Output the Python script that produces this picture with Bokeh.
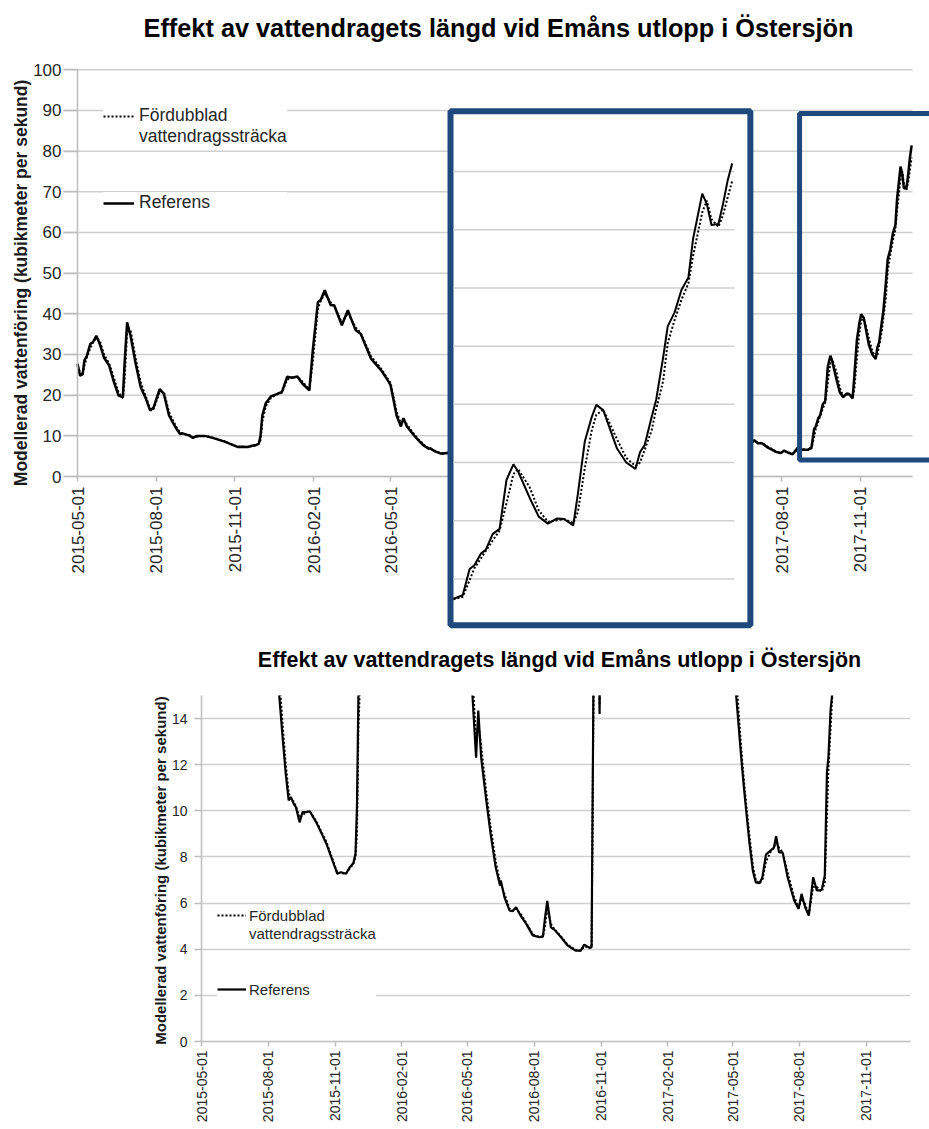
import math
import pandas as pd
from bokeh.plotting import figure
from bokeh.models import (ColumnDataSource, Range1d, FixedTicker, DatetimeTickFormatter,
                          DatetimeAxis, LinearAxis, BoxAnnotation, Legend, LegendItem, Label)
from bokeh.core.properties import value
from bokeh.embed import file_html
from bokeh.resources import INLINE

nan = float("nan")

# ---------------- data ----------------
datum = [
    "2015-05-01", "2015-05-04", "2015-05-07", "2015-05-09", "2015-05-12", "2015-05-16", "2015-05-19",
    "2015-05-23", "2015-05-27", "2015-06-01", "2015-06-07", "2015-06-12", "2015-06-18", "2015-06-23",
    "2015-06-25", "2015-06-28", "2015-07-02", "2015-07-08", "2015-07-14", "2015-07-20", "2015-07-25",
    "2015-07-29", "2015-08-05", "2015-08-10", "2015-08-16", "2015-08-21", "2015-08-25", "2015-08-29",
    "2015-09-01", "2015-09-05", "2015-09-08", "2015-09-13", "2015-09-17", "2015-09-22", "2015-09-27",
    "2015-10-06", "2015-10-20", "2015-11-04", "2015-11-09", "2015-11-16", "2015-11-21", "2015-11-26",
    "2015-11-29", "2015-12-01", "2015-12-03", "2015-12-07", "2015-12-13", "2015-12-19", "2015-12-26",
    "2016-01-01", "2016-01-07", "2016-01-13", "2016-01-19", "2016-01-27", "2016-01-31", "2016-02-06",
    "2016-02-09", "2016-02-14", "2016-02-21", "2016-02-25", "2016-03-05", "2016-03-12", "2016-03-21",
    "2016-03-27", "2016-04-08", "2016-04-20", "2016-04-29", "2016-05-01", "2016-05-08", "2016-05-13",
    "2016-05-16", "2016-05-20", "2016-05-27", "2016-06-02", "2016-06-09", "2016-06-15", "2016-06-16",
    "2016-06-21", "2016-06-28", "2016-07-02", "2016-07-07", "2016-07-14", "2016-07-21", "2016-07-30",
    "2016-08-08", "2016-08-13", "2016-08-16", "2016-08-19", "2016-08-24", "2016-08-29", "2016-09-07",
    "2016-09-16", "2016-09-27", "2016-10-04", "2016-10-09", "2016-10-16", "2016-10-19", "2016-10-23",
    "2016-10-28", "2016-10-30", "2016-11-01",
    "2017-01-15",
    "2017-05-04", "2017-05-06", "2017-05-13", "2017-05-17", "2017-05-24", "2017-05-29", "2017-06-02",
    "2017-06-07", "2017-06-11", "2017-06-16", "2017-06-23", "2017-06-27", "2017-06-30", "2017-07-04",
    "2017-07-09", "2017-07-16", "2017-07-25", "2017-07-31", "2017-08-04", "2017-08-09", "2017-08-14",
    "2017-08-20", "2017-08-25", "2017-08-30",
    "2017-09-01", "2017-09-05", "2017-09-08", "2017-09-10", "2017-09-13", "2017-09-15", "2017-09-18",
    "2017-09-21", "2017-09-24", "2017-09-27", "2017-09-29", "2017-10-04", "2017-10-08", "2017-10-12",
    "2017-10-16", "2017-10-19", "2017-10-23", "2017-10-25", "2017-10-28", "2017-10-31", "2017-11-02",
    "2017-11-05", "2017-11-11", "2017-11-15", "2017-11-19", "2017-11-21", "2017-11-23", "2017-11-26",
    "2017-11-28", "2017-12-01", "2017-12-03", "2017-12-06", "2017-12-09", "2017-12-12", "2017-12-14",
    "2017-12-18", "2017-12-20", "2017-12-22", "2017-12-25", "2017-12-27", "2017-12-29", "2017-12-31",
]

referens = [
    27.7, 24.8, 25.1, 28.5, 29.7, 32.6, 33.0,
    34.6, 32.6, 29.2, 27.3, 23.6, 19.9, 19.5,
    27.7, 37.9, 34.6, 27.7, 21.9, 19.1, 16.2,
    17.0, 21.5, 20.3, 15.0, 13.05, 11.6, 10.45,
    10.6, 10.3, 10.16, 9.5, 9.94, 9.94, 9.98,
    9.5, 8.57, 7.27, 7.34, 7.27, 7.55, 7.73,
    8.14, 10.16, 15.0, 18.0, 19.7, 20.2, 20.8,
    24.5, 24.3, 24.6, 22.8, 21.2, 31.0, 42.9,
    43.3, 45.8, 42.1, 42.1, 37.2, 40.9, 36.0,
    35.1, 29.0, 26.1, 23.2, 22.4, 15.0, 12.3,
    14.35, 12.3, 10.45, 9.0, 7.55, 6.76, 6.98,
    6.26, 5.68, 5.65, 5.82, 5.42, 5.1, 4.6,
    4.52, 4.55, 5.39, 6.1, 4.95, 4.84, 4.52,
    4.16, 3.94, 3.94, 4.2, 4.06, 4.09, 22.0,
    22.0, 14.2, 22.0,
    nan,
    22.0, 15.0, 12.3, 10.9, 8.7, 7.4, 6.9,
    6.86, 7.1, 8.1, 8.3, 8.4, 8.9, 8.2,
    8.2, 7.1, 6.1, 5.75, 6.4, 5.82, 5.46,
    7.12, 6.55, 6.55,
    6.6, 7.2, 11.7, 12.3, 14.4, 15.0, 17.7,
    18.6, 27.0, 29.7, 28.5, 24.0, 20.7, 19.5,
    20.4, 20.3, 19.2, 24.6, 33.6, 37.8, 39.9,
    39.0, 32.4, 30.0, 28.9, 31.8, 33.0, 37.8,
    40.8, 48.0, 53.4, 55.8, 59.7, 61.8, 68.4,
    76.2, 74.4, 70.8, 71.0, 74.4, 78.4, 81.4,
]

fordubblad = [
    27.2, 25.6, 24.9, 27.2, 29.3, 31.6, 32.9,
    34.0, 33.4, 30.0, 27.8, 24.6, 20.6, 19.3,
    23.5, 35.5, 36.0, 29.0, 23.0, 19.6, 16.5,
    16.6, 20.8, 20.8, 15.8, 13.6, 12.0, 10.8,
    10.5, 10.4, 10.2, 9.7, 9.8, 9.95, 9.98,
    9.55, 8.65, 7.32, 7.3, 7.28, 7.5, 7.7,
    8.0, 9.0, 13.5, 17.2, 19.3, 20.1, 20.6,
    23.8, 24.4, 24.5, 23.3, 21.4, 28.0, 41.5,
    43.0, 45.0, 42.8, 42.0, 37.8, 40.2, 36.7,
    35.3, 29.6, 26.5, 23.6, 22.9, 15.9, 13.0,
    13.8, 12.8, 10.8, 9.3, 7.8, 6.9, 6.85,
    6.4, 5.75, 5.65, 5.75, 5.5, 5.15, 4.65,
    4.53, 4.55, 5.0, 5.8, 5.1, 4.86, 4.55,
    4.2, 3.97, 3.94, 4.12, 4.08, 4.07, 21.0,
    22.0, 14.6, 21.0,
    nan,
    23.0, 15.8, 12.7, 11.2, 9.0, 7.6, 7.0,
    6.85, 7.0, 7.8, 8.25, 8.4, 8.7, 8.4,
    8.2, 7.3, 6.25, 5.8, 6.2, 5.95, 5.5,
    6.7, 6.7, 6.55,
    6.5, 6.9, 9.8, 11.8, 13.6, 14.8, 16.6,
    18.3, 23.0, 28.0, 28.9, 25.8, 21.8, 19.8,
    20.1, 20.3, 19.6, 21.5, 29.0, 35.5, 38.2,
    39.1, 34.0, 30.8, 29.4, 30.0, 32.2, 35.5,
    39.2, 44.0, 50.5, 54.5, 58.0, 60.8, 65.5,
    73.0, 75.0, 71.8, 70.5, 72.5, 75.5, 78.4,
]

x_ticks = ["2015-05-01", "2015-08-01", "2015-11-01", "2016-02-01", "2016-05-01", "2016-08-01",
           "2016-11-01", "2017-02-01", "2017-05-01", "2017-08-01", "2017-11-01"]
y_ticks_top = [0, 10, 20, 30, 40, 50, 60, 70, 80, 90, 100]
y_ticks_bottom = [0, 2, 4, 6, 8, 10, 12, 14]
inset_grid = [10, 20, 30, 40, 50, 60, 70, 80]

titel = "Effekt av vattendragets längd vid Emåns utlopp i Östersjön"
y_titel = "Modellerad vattenföring  (kubikmeter per sekund)"
namn_fd_1 = "Fördubblad"
namn_fd_2 = "vattendragssträcka"
namn_ref = "Referens"

assert len(datum) == len(referens) == len(fordubblad)

# ---------------- styling / layout constants ----------------
FONT = "Liberation Sans"
GRID = "#d0d0d0"
AXIS = "#bdbdbd"
TXT = "#262626"
BLUE = "#1F497D"
DAY = 86400000.0


def ms(s):
    return pd.Timestamp(s).value / 1e6


X0, X1 = ms("2015-05-01"), ms("2018-01-01")
PX_DAY = 835.0 / 976.0          # top chart: pixels per day
PX_UNIT = 4.067                 # top chart: pixels per m3/s


def xd(px):                     # top chart: screen x -> date (ms)
    return X0 + (px - 77) / PX_DAY * DAY


def yv(py):                     # top chart: screen y -> value
    return (476 - py) / PX_UNIT


df = pd.DataFrame({"datum": pd.to_datetime(datum), "referens": referens, "fordubblad": fordubblad})
src = ColumnDataSource(df)
src_in = ColumnDataSource(df[df["datum"] >= pd.Timestamp("2017-09-01")])

fmt_keys = ["microseconds", "milliseconds", "seconds", "minsec", "minutes",
            "hourmin", "hours", "days", "months", "years"]


def make_fmt():
    return DatetimeTickFormatter(**{k: "%Y-%m-%d" for k in fmt_keys})


def style_axis(ax, size, tick_out, standoff):
    ax.axis_line_color = AXIS
    ax.axis_line_width = 1.5
    ax.major_tick_line_color = AXIS
    ax.major_tick_line_width = 1.5
    ax.major_tick_out = tick_out
    ax.major_tick_in = 0
    ax.minor_tick_line_color = None
    ax.major_label_text_font = FONT
    ax.major_label_text_font_size = f"{size}px"
    ax.major_label_text_color = TXT
    ax.major_label_standoff = standoff


def make_legend(items, loc, pad, gw, gh, standoff, size, lw):
    return Legend(items=items, location=loc, padding=pad, spacing=0, margin=0,
                  glyph_width=gw, glyph_height=gh, label_height=gh, label_width=lw,
                  label_standoff=standoff, label_text_font=FONT,
                  label_text_font_size=size, label_text_color=TXT,
                  border_line_color=None, background_fill_color="white",
                  background_fill_alpha=1.0)


def text_label(x, y, text, size, angle=0.0, color="black"):
    return Label(x=x, y=y, text=text, angle=angle, text_align="center", text_baseline="middle",
                 text_font=FONT, text_font_style="bold", text_font_size=size, text_color=color)


# ---------------- top chart (frame = whole canvas) ----------------
TOP_H = 695
p = figure(width=929, height=TOP_H, x_axis_type=None, y_axis_type=None,
           x_range=Range1d(xd(0), xd(929)), y_range=Range1d(yv(TOP_H), yv(0)),
           output_backend="svg", toolbar_location=None,
           min_border=0, min_border_left=0, min_border_right=0,
           min_border_top=0, min_border_bottom=0)
p.background_fill_color = "white"
p.border_fill_color = "white"
p.outline_line_color = None

# horizontal gridlines (start a little left of the axis, like the ticks)
p.segment(x0=[xd(63)] * len(y_ticks_top), x1=[X1] * len(y_ticks_top),
          y0=y_ticks_top, y1=y_ticks_top, line_color=GRID, line_width=1.5)

xa = DatetimeAxis(fixed_location=0, ticker=FixedTicker(ticks=[ms(t) for t in x_ticks]),
                  formatter=make_fmt(), bounds=(X0, X1))
style_axis(xa, 17, 5, 5)
xa.major_label_orientation = math.pi / 2
p.add_layout(xa, "below")

ya = LinearAxis(fixed_location=X0, ticker=FixedTicker(ticks=y_ticks_top), bounds=(0, 100))
style_axis(ya, 17, 14, 2)
p.add_layout(ya, "left")

r_fd = p.line("datum", "fordubblad", source=src, line_color="black", line_width=2, line_dash="2 2")
r_ref = p.line("datum", "referens", source=src, line_color="black", line_width=2.5)

# highlight box over the last months
box2 = BoxAnnotation(left=ms("2017-08-22"), right=xd(960), bottom=4.06, top=89.25,
                     fill_alpha=0, line_color=BLUE, line_alpha=1.0, line_width=5,
                     level="annotation")
p.add_layout(box2)

# inset (magnified view of the last months)
box1 = BoxAnnotation(left=ms("2016-07-10"), right=ms("2017-06-25 12:00"), bottom=-36.6, top=89.8,
                     fill_color="white", fill_alpha=1.0, line_color=BLUE, line_alpha=1.0,
                     line_width=6, level="annotation")
p.add_layout(box1)

S0, S1 = ms("2017-09-01"), ms("2018-01-01")
sub = p.subplot(x_source=Range1d(S0, S1), y_source=Range1d(0, 90),
                x_target=Range1d(xd(453), xd(734)),
                y_target=Range1d(-39.5, 89.3))
sub.segment(x0=[S0] * len(inset_grid), x1=[S1] * len(inset_grid), y0=inset_grid, y1=inset_grid,
            line_color=GRID, line_width=1.5, level="overlay")
sub.line("datum", "fordubblad", source=src_in, line_color="black", line_width=2,
         line_dash="2 2", level="overlay")
sub.line("datum", "referens", source=src_in, line_color="black", line_width=2, level="overlay")

legA = make_legend([LegendItem(label=value(namn_fd_1), renderers=[r_fd]),
                    LegendItem(label=value(namn_fd_2), renderers=[])],
                   (103, 548), 12, 31, 20, 5, "17.5px", 148)
legB = make_legend([LegendItem(label=value(namn_ref), renderers=[r_ref])],
                   (103, 482), 22, 31, 20, 5, "17.5px", 148)
p.add_layout(legA)
p.add_layout(legB)

# titles
p.add_layout(text_label(xd(498), yv(27), titel, "25.3px"))
p.add_layout(text_label(xd(20), yv(280), y_titel, "17.5px", math.pi / 2, "#1a1a1a"))
p.add_layout(text_label(xd(559), yv(659), titel, "21.5px"))

# ---------------- bottom chart ----------------
p2 = figure(width=929, height=433, x_axis_type="datetime",
            x_range=Range1d(X0, X1), y_range=Range1d(0, 15),
            output_backend="svg", toolbar_location=None,
            min_border_left=201, min_border_right=19, min_border_top=0, min_border_bottom=87)
p2.background_fill_color = "white"
p2.border_fill_color = "white"
p2.outline_line_color = None

p2.xaxis.ticker = FixedTicker(ticks=[ms(t) for t in x_ticks])
p2.xaxis.formatter = make_fmt()
style_axis(p2.xaxis[0], 14, 5, 4)
p2.xaxis.major_label_orientation = math.pi / 2
p2.xgrid.visible = False

p2.yaxis.ticker = FixedTicker(ticks=y_ticks_bottom)
style_axis(p2.yaxis[0], 14, 7, 7)
p2.yaxis.axis_label = y_titel
p2.yaxis.axis_label_text_font = FONT
p2.yaxis.axis_label_text_font_style = "bold"
p2.yaxis.axis_label_text_font_size = "15px"
p2.yaxis.axis_label_text_color = "#1a1a1a"
p2.yaxis.axis_label_standoff = 0
p2.ygrid.grid_line_color = GRID
p2.ygrid.grid_line_width = 1.5

q_fd = p2.line("datum", "fordubblad", source=src, line_color="black", line_width=2, line_dash="2 2")
q_ref = p2.line("datum", "referens", source=src, line_color="black", line_width=2.2)

legC = make_legend([LegendItem(label=value(namn_fd_1), renderers=[q_fd]),
                    LegendItem(label=value(namn_fd_2), renderers=[])],
                   (16, 99), 15, 29, 18, 3, "15px", 127)
legD = make_legend([LegendItem(label=value(namn_ref), renderers=[q_ref])],
                   (16, 43), 15, 29, 18, 3, "15px", 127)
p2.add_layout(legC)
p2.add_layout(legD)

open("out.html", "w").write(file_html([p, p2], INLINE))
